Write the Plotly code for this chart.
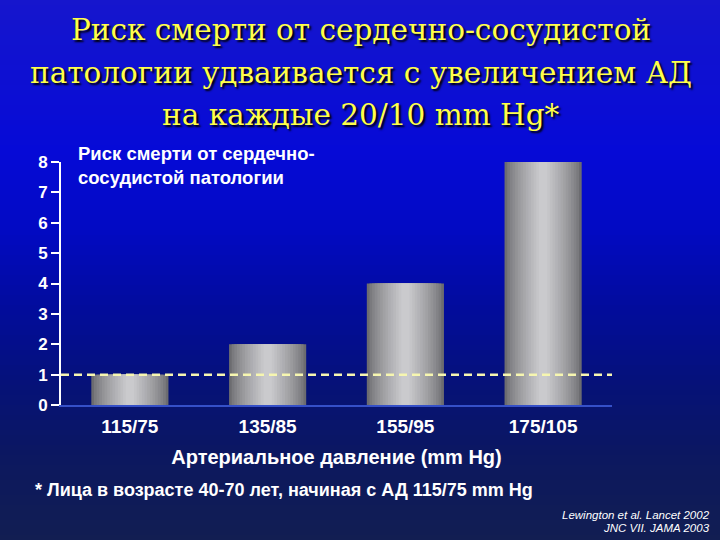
import plotly.graph_objects as go

categories = ["115/75", "135/85", "155/95", "175/105"]
risk = [1, 2, 4, 8]
y_ticks = [0, 1, 2, 3, 4, 5, 6, 7, 8]
reference_level = 1

title_lines = ["Риск смерти от сердечно-сосудистой",
               "патологии удваивается с увеличением АД",
               "на каждые 20/10 mm Hg*"]
inner_title = "Риск смерти от сердечно-<br>сосудистой патологии"
x_title = "Артериальное давление (mm Hg)"
footnote = "* Лица в возрасте 40-70 лет, начиная с АД 115/75 mm Hg"
citation_lines = ["Lewington et al. Lancet 2002", "JNC VII. JAMA 2003"]

W, H = 720, 540
L, R, T, B = 61, 108, 162, 135
PW, PH = W - L - R, H - T - B

def lerp(a, b, t):
    return tuple(int(round(a[i] + (b[i] - a[i]) * t)) for i in range(3))

# background gradient stops (pixel y, rgb)
bg_stops = [(0, (22, 22, 205)), (150, (6, 10, 215)), (230, (2, 10, 195)),
            (310, (2, 12, 155)), (390, (6, 18, 118)), (460, (12, 24, 95)),
            (540, (18, 30, 82))]

def bg_color(py):
    for (y0, c0), (y1, c1) in zip(bg_stops[:-1], bg_stops[1:]):
        if y0 <= py <= y1:
            return lerp(c0, c1, (py - y0) / (y1 - y0))
    return bg_stops[-1][1]

def py2paper(py):
    return (H - B - py) / PH

def px2paper(px):
    return (px - L) / PW

shapes = []
step = 5
for py in range(0, H, step):
    c = bg_color(py + step / 2)
    shapes.append(dict(type="rect", xref="paper", yref="paper",
                       x0=px2paper(-2), x1=px2paper(W + 2),
                       y0=py2paper(py + step + 1), y1=py2paper(py),
                       line=dict(width=0),
                       fillcolor="rgb(%d,%d,%d)" % c, layer="below"))

shapes.append(dict(type="line", xref="paper", yref="y", x0=0, x1=1,
                   y0=reference_level, y1=reference_level,
                   line=dict(color="#f6f6b0", width=2.5, dash="8px,5px"),
                   layer="above"))

fig = go.Figure()
n_layers = 14
max_w = 0.56
for i in range(n_layers):
    t = i / (n_layers - 1)
    w = max_w * (1 - t) + 0.06 * t
    c = lerp((108, 108, 112), (202, 202, 205), t ** 0.75)
    fig.add_trace(go.Bar(x=categories, y=risk, width=w,
                         marker=dict(color="rgb(%d,%d,%d)" % c, line=dict(width=0)),
                         showlegend=False, hoverinfo="skip"))

annotations = []
title_y = [30, 72.5, 115]
for line, py in zip(title_lines, title_y):
    annotations.append(dict(text=line, xref="paper", yref="paper",
                            x=px2paper(361), y=py2paper(py),
                            xanchor="center", yanchor="middle", showarrow=False,
                            font=dict(family="DejaVu Serif", size=29.5, color="#ffff4a",
                                      shadow="2px 2px 2px #000000")))

annotations.append(dict(text=inner_title, xref="paper", yref="paper",
                        x=px2paper(76), y=py2paper(141), xanchor="left",
                        yanchor="top", align="left", showarrow=False,
                        font=dict(family="Liberation Sans", size=18.5, color="white",
                                  weight="bold")))
annotations.append(dict(text=footnote, xref="paper", yref="paper",
                        x=px2paper(33), y=py2paper(490), xanchor="left",
                        yanchor="middle", showarrow=False,
                        font=dict(family="Liberation Sans", size=18, color="white",
                                  weight="bold")))
for line, py in zip(citation_lines, [515, 527.5]):
    annotations.append(dict(text=line, xref="paper", yref="paper",
                            x=px2paper(712), y=py2paper(py), xanchor="right",
                            yanchor="middle", align="right", showarrow=False,
                            font=dict(family="Liberation Sans", size=11.5, color="white",
                                      style="italic")))

fig.update_layout(
    width=W, height=H,
    margin=dict(l=L, r=R, t=T, b=B),
    paper_bgcolor="rgb(10,16,140)",
    plot_bgcolor="rgba(0,0,0,0)",
    barmode="overlay",
    bargap=0.44,
    shapes=shapes,
    annotations=annotations,
    xaxis=dict(type="category", showline=True, linecolor="#3550c8", linewidth=2,
               showgrid=False, ticks="", zeroline=False, ticklabelstandoff=3,
               tickfont=dict(family="Liberation Sans", size=19, color="white",
                             weight="bold"),
               title=dict(text=x_title, standoff=14,
                          font=dict(family="Liberation Sans", size=20, color="white",
                                    weight="bold"))),
    yaxis=dict(range=[0, 8], tickvals=y_ticks, showline=True, linecolor="white",
               linewidth=2, ticks="outside", tickcolor="white", ticklen=8, tickwidth=2,
               showgrid=False, zeroline=False,
               tickfont=dict(family="Liberation Sans", size=17, color="white",
                             weight="bold")),
)

fig.write_html("out.html", config={"displayModeBar": False},
               post_script="document.body.style.margin='0';"
                           "document.body.style.overflow='hidden';")
